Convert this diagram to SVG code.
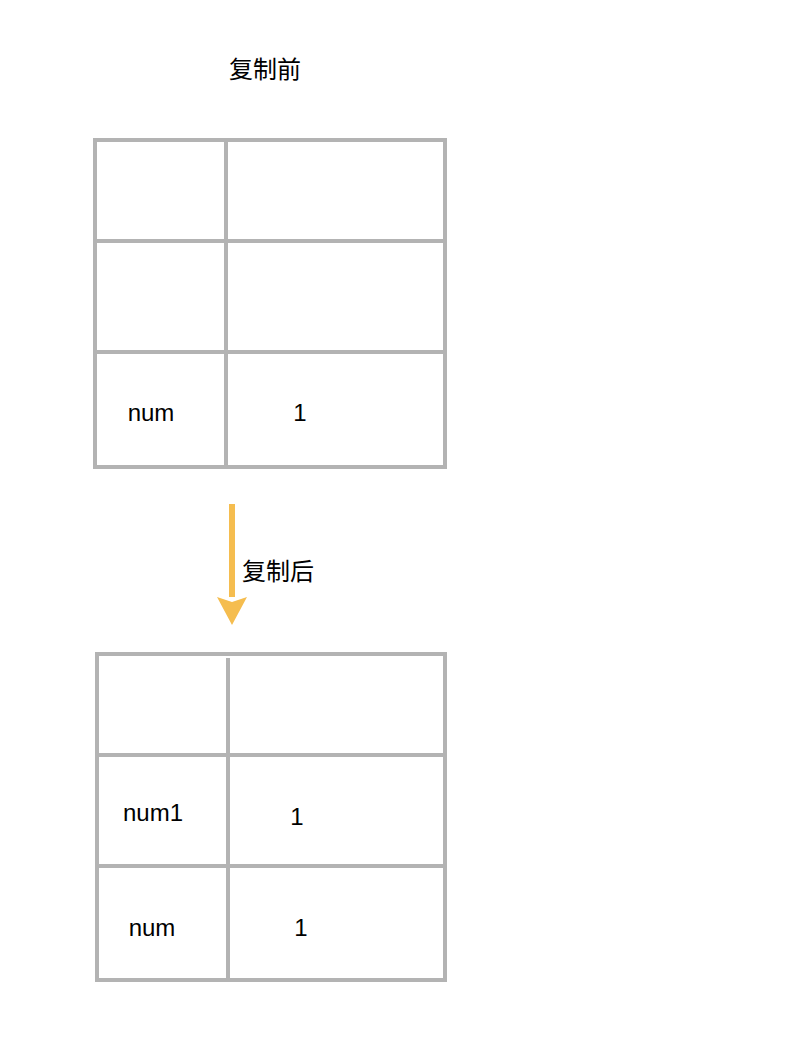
<svg xmlns="http://www.w3.org/2000/svg" width="810" height="1046" viewBox="0 0 810 1046">
<style>
.grid{fill:none;stroke:#b3b3b3;stroke-width:4}
.t{font-family:"Liberation Sans","Noto Sans CJK SC",sans-serif;font-size:24px;fill:#000}
.cjk{font-family:"Noto Sans CJK SC","Liberation Sans",sans-serif;font-size:24px;fill:#000}
</style>
<defs>
<marker id="ah" markerUnits="userSpaceOnUse" markerWidth="32" markerHeight="30" refX="0" refY="15" orient="auto" viewBox="0 0 30 30">
<path d="M0,0 L28,15 L0,30 L5,15 Z" fill="#f5bd4f"/>
</marker>
</defs>
<rect width="810" height="1046" fill="#fff"/>
<text class="cjk" x="265" y="78" text-anchor="middle">复制前</text>
<g id="before">
<rect class="grid" x="95" y="140" width="350" height="327"/>
<line class="grid" x1="226" y1="140" x2="226" y2="467"/>
<line class="grid" x1="95" y1="241" x2="445" y2="241"/>
<line class="grid" x1="95" y1="352" x2="445" y2="352"/>
<text class="t" x="151" y="421" text-anchor="middle">num</text>
<text class="t" x="300" y="421" text-anchor="middle">1</text>
</g>
<g id="connectors">
<line x1="232" y1="504" x2="232" y2="597" stroke="#f5bd4f" stroke-width="6" marker-end="url(#ah)"/>
<text class="cjk" x="278" y="580" text-anchor="middle">复制后</text>
</g>
<g id="after">
<rect class="grid" x="97" y="654" width="348" height="326"/>
<line class="grid" x1="228" y1="658" x2="228" y2="980"/>
<line class="grid" x1="97" y1="755" x2="445" y2="755"/>
<line class="grid" x1="97" y1="866" x2="445" y2="866"/>
<text class="t" x="153" y="821" text-anchor="middle">num1</text>
<text class="t" x="297" y="825" text-anchor="middle">1</text>
<text class="t" x="152" y="936" text-anchor="middle">num</text>
<text class="t" x="301" y="936" text-anchor="middle">1</text>
</g>
</svg>
